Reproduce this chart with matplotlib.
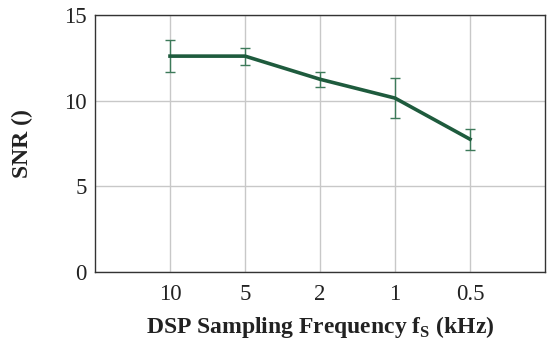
import matplotlib.pyplot as plt
import numpy as np

plt.rcParams['font.family'] = ['Liberation Serif', 'DejaVu Serif']
plt.rcParams['mathtext.fontset'] = 'custom'
plt.rcParams['mathtext.rm'] = 'Liberation Serif'
plt.rcParams['mathtext.bf'] = 'Liberation Serif:bold'

# data
freqs = ['10', '5', '2', '1', '0.5']
snr = [12.6, 12.6, 11.25, 10.15, 7.75]
snr_err = [0.95, 0.5, 0.43, 1.18, 0.62]
yticks = [0, 5, 10, 15]

fig = plt.figure(figsize=(5.5, 3.42), dpi=100)
ax = fig.add_axes([95/550, 1 - 272/342, 450/550, 257/342])

xpos = np.arange(len(freqs))
ax.errorbar(xpos, snr, yerr=snr_err, color='#1e5b3d', lw=2.6,
            ecolor='#3d7a5a', elinewidth=1.0, capsize=3.5, capthick=1.0, zorder=3)

ax.set_xlim(-1, len(freqs))
ax.set_ylim(0, 15)
ax.set_xticks(xpos)
ax.set_xticklabels(freqs)
ax.set_yticks(yticks)
ax.tick_params(axis='both', length=0, labelsize=16.5, colors='#222222')
ax.tick_params(axis='y', pad=6)
ax.tick_params(axis='x', pad=9)
ax.grid(True, color='#c8c8c8', lw=1.0)
ax.set_axisbelow(True)
for s in ax.spines.values():
    s.set_color('#333333')
    s.set_linewidth(1.0)

ax.set_ylabel('SNR ()', fontsize=17, fontweight='bold', labelpad=22, color='#222222')
ax.set_xlabel(r'DSP Sampling Frequency f$_\mathbf{S}$ (kHz)', fontsize=17,
              fontweight='bold', labelpad=6, color='#222222')

fig.savefig('out.png', dpi=100)
